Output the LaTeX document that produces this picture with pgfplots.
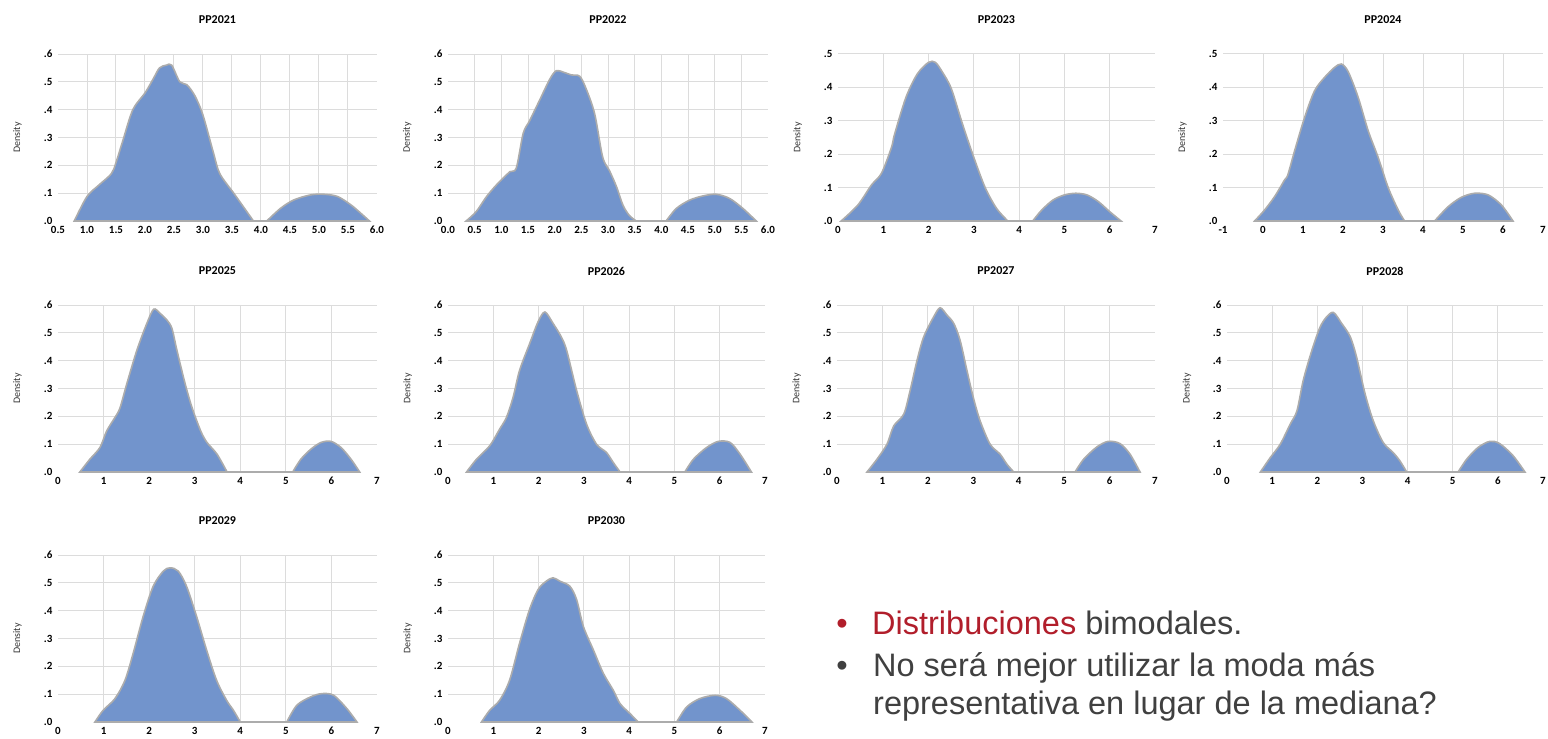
\documentclass[border=0pt]{standalone}
\usepackage{pgfplots}
\pgfplotsset{compat=1.18}
\usepackage{fontspec}
\setmainfont{Liberation Sans}
\newfontfamily\calfont{Carlito}
\definecolor{areablue}{RGB}{114,148,204}
\definecolor{outl}{RGB}{172,172,172}
\definecolor{gridc}{RGB}{220,220,220}
\definecolor{txtgray}{RGB}{64,64,64}
\definecolor{txtred}{RGB}{177,30,43}
\pgfplotsset{
  every axis title shift=0pt,
  panel/.style={
    scale only axis, height=167pt, anchor=south west,
    axis lines=left, axis line style={draw=none},
    ymin=0, clip=false,
    major tick length=0pt,
    tick label style={font=\calfont\bfseries\fontsize{11}{12}\selectfont, text=black},
    xticklabel style={anchor=center, yshift=-9pt},
    yticklabel style={anchor=east, xshift=-2pt},
    extra tick style={grid=major, major tick length=0pt},
    extra x tick labels={}, extra y tick labels={},
    grid style={gridc, line width=1pt},
    title style={font=\calfont\bfseries\fontsize{12}{13}\selectfont, at={(axis description cs:0.5,1)}, anchor=center, yshift=34pt},
    ylabel={Density},
    ylabel style={font=\calfont\fontsize{10}{11}\selectfont, at={(axis description cs:-0.127,0.5)}, anchor=center, text=black!80},
  },
  six/.style={ymax=0.6, ytick={0,0.1,0.2,0.3,0.4,0.5,0.6}, yticklabels={.0,.1,.2,.3,.4,.5,.6}, extra y ticks={0.1,0.2,0.3,0.4,0.5,0.6}},
  five/.style={ymax=0.5, ytick={0,0.1,0.2,0.3,0.4,0.5}, yticklabels={.0,.1,.2,.3,.4,.5}, extra y ticks={0.1,0.2,0.3,0.4,0.5}},
  seven/.style={xmin=0, xmax=7, xtick={0,1,2,3,4,5,6,7}, xticklabels={0,1,2,3,4,5,6,7}, extra x ticks={1,2,3,4,5,6}},
  dens/.style={fill=areablue, draw=outl, line width=1.6pt, smooth, tension=0.5},
  zero/.style={draw=outl, line width=1.6pt, sharp plot},
}
\begin{document}
\begin{tikzpicture}
\useasboundingbox (0,0) rectangle (1548pt,739pt);
% ---------- row 1
\begin{axis}[panel, six, at={(58pt,518pt)}, width=319pt, title={PP2021},
  xmin=0.5, xmax=6, xtick={0.5,1,1.5,2,2.5,3,3.5,4,4.5,5,5.5,6},
  xticklabels={0.5,1.0,1.5,2.0,2.5,3.0,3.5,4.0,4.5,5.0,5.5,6.0},
  extra x ticks={1,1.5,2,2.5,3,3.5,4,4.5,5,5.5}]
\addplot[dens] coordinates {(0.78,0) (1.0,0.088) (1.21,0.13) (1.42,0.17) (1.5,0.21) (1.62,0.29) (1.79,0.40) (2.0,0.46) (2.14,0.51) (2.25,0.55) (2.37,0.56) (2.46,0.56) (2.6,0.50) (2.72,0.49) (2.86,0.45) (3.0,0.38) (3.18,0.245) (3.29,0.17) (3.53,0.10) (3.7,0.05) (3.87,0)} \closedcycle;
\addplot[zero] coordinates {(3.87,0) (4.1,0)};
\addplot[dens] coordinates {(4.1,0) (4.34,0.046) (4.57,0.076) (4.86,0.094) (5.09,0.096) (5.32,0.088) (5.55,0.058) (5.72,0.028) (5.87,0)} \closedcycle;
\end{axis}
\begin{axis}[panel, six, at={(448pt,518pt)}, width=320pt, title={PP2022},
  xmin=0, xmax=6, xtick={0,0.5,1,1.5,2,2.5,3,3.5,4,4.5,5,5.5,6},
  xticklabels={0.0,0.5,1.0,1.5,2.0,2.5,3.0,3.5,4.0,4.5,5.0,5.5,6.0},
  extra x ticks={0.5,1,1.5,2,2.5,3,3.5,4,4.5,5,5.5}]
\addplot[dens] coordinates {(0.34,0) (0.53,0.034) (0.72,0.087) (0.91,0.13) (1.16,0.177) (1.28,0.19) (1.41,0.315) (1.53,0.36) (1.72,0.435) (1.91,0.51) (2.03,0.54) (2.16,0.535) (2.31,0.525) (2.47,0.52) (2.59,0.475) (2.75,0.385) (2.9,0.23) (3.03,0.18) (3.16,0.123) (3.28,0.057) (3.4,0.02) (3.53,0)} \closedcycle;
\addplot[zero] coordinates {(3.53,0) (4.09,0)};
\addplot[dens] coordinates {(4.09,0) (4.28,0.045) (4.53,0.075) (4.78,0.09) (5.03,0.096) (5.28,0.081) (5.53,0.045) (5.78,0)} \closedcycle;
\end{axis}
\begin{axis}[panel, five, seven, at={(838pt,518pt)}, width=317pt, title={PP2023}]
\addplot[dens] coordinates {(0.07,0) (0.44,0.048) (0.74,0.108) (0.96,0.143) (1.18,0.22) (1.25,0.26) (1.5,0.37) (1.75,0.44) (2.0,0.475) (2.15,0.475) (2.3,0.447) (2.5,0.397) (2.75,0.29) (3.0,0.19) (3.25,0.10) (3.5,0.038) (3.75,0)} \closedcycle;
\addplot[zero] coordinates {(3.75,0) (4.3,0)};
\addplot[dens] coordinates {(4.3,0) (4.5,0.033) (4.75,0.063) (5.0,0.078) (5.25,0.083) (5.5,0.078) (5.75,0.058) (6.0,0.028) (6.25,0)} \closedcycle;
\end{axis}
\begin{axis}[panel, five, at={(1223pt,518pt)}, width=320pt, title={PP2024},
  xmin=-1, xmax=7, xtick={-1,0,1,2,3,4,5,6,7}, xticklabels={-1,0,1,2,3,4,5,6,7},
  extra x ticks={0,1,2,3,4,5,6}]
\addplot[dens] coordinates {(-0.21,0) (0.04,0.033) (0.29,0.073) (0.54,0.123) (0.62,0.138) (0.79,0.21) (1.04,0.31) (1.29,0.39) (1.54,0.43) (1.79,0.46) (1.96,0.47) (2.13,0.447) (2.38,0.37) (2.63,0.27) (2.88,0.19) (3.13,0.10) (3.38,0.033) (3.54,0)} \closedcycle;
\addplot[zero] coordinates {(3.54,0) (4.29,0)};
\addplot[dens] coordinates {(4.29,0) (4.63,0.043) (4.96,0.071) (5.29,0.083) (5.63,0.078) (5.96,0.048) (6.25,0)} \closedcycle;
\end{axis}
% ---------- row 2
\begin{axis}[panel, six, seven, at={(58pt,267pt)}, width=319pt, title={PP2025}]
\addplot[dens] coordinates {(0.48,0) (0.70,0.046) (0.92,0.088) (1.07,0.148) (1.25,0.196) (1.36,0.23) (1.51,0.317) (1.73,0.437) (1.95,0.534) (2.10,0.585) (2.24,0.57) (2.39,0.546) (2.5,0.516) (2.61,0.437) (2.79,0.317) (2.94,0.232) (3.13,0.148) (3.27,0.106) (3.49,0.064) (3.71,0)} \closedcycle;
\addplot[zero] coordinates {(3.71,0) (5.15,0)};
\addplot[dens] coordinates {(5.15,0) (5.33,0.046) (5.55,0.082) (5.77,0.106) (5.99,0.11) (6.21,0.088) (6.43,0.046) (6.62,0)} \closedcycle;
\end{axis}
\begin{axis}[panel, six, seven, at={(448pt,267pt)}, width=317pt, title={PP2026}]
\addplot[dens] coordinates {(0.41,0) (0.63,0.046) (0.92,0.094) (1.14,0.154) (1.29,0.196) (1.44,0.27) (1.58,0.365) (1.8,0.46) (1.99,0.54) (2.14,0.575) (2.32,0.534) (2.5,0.486) (2.62,0.437) (2.84,0.293) (3.06,0.172) (3.28,0.1) (3.5,0.07) (3.65,0.034) (3.8,0)} \closedcycle;
\addplot[zero] coordinates {(3.8,0) (5.23,0)};
\addplot[dens] coordinates {(5.23,0) (5.42,0.046) (5.71,0.088) (5.97,0.11) (6.23,0.106) (6.45,0.064) (6.7,0)} \closedcycle;
\end{axis}
\begin{axis}[panel, six, seven, at={(837pt,267pt)}, width=318pt, title={PP2027}]
\addplot[dens] coordinates {(0.66,0) (0.88,0.046) (1.10,0.1) (1.25,0.166) (1.47,0.208) (1.61,0.293) (1.76,0.4) (1.91,0.486) (2.13,0.558) (2.27,0.59) (2.42,0.564) (2.57,0.534) (2.71,0.473) (2.86,0.365) (3.0,0.268) (3.15,0.184) (3.37,0.1) (3.59,0.064) (3.74,0.028) (3.89,0)} \closedcycle;
\addplot[zero] coordinates {(3.89,0) (5.24,0)};
\addplot[dens] coordinates {(5.24,0) (5.43,0.046) (5.72,0.09) (5.97,0.11) (6.23,0.102) (6.45,0.064) (6.67,0)} \closedcycle;
\end{axis}
\begin{axis}[panel, six, seven, at={(1227pt,267pt)}, width=316pt, title={PP2028}]
\addplot[dens] coordinates {(0.74,0) (0.96,0.052) (1.18,0.1) (1.4,0.172) (1.55,0.22) (1.69,0.33) (1.88,0.437) (2.06,0.52) (2.21,0.558) (2.36,0.573) (2.54,0.534) (2.73,0.486) (2.87,0.413) (3.06,0.28) (3.24,0.184) (3.46,0.106) (3.68,0.07) (3.83,0.04) (3.98,0)} \closedcycle;
\addplot[zero] coordinates {(3.98,0) (5.12,0)};
\addplot[dens] coordinates {(5.12,0) (5.31,0.046) (5.56,0.088) (5.82,0.11) (6.04,0.102) (6.34,0.058) (6.6,0)} \closedcycle;
\end{axis}
% ---------- row 3
\begin{axis}[panel, six, seven, at={(58pt,17pt)}, width=319pt, title={PP2029}]
\addplot[dens] coordinates {(0.81,0) (0.99,0.042) (1.25,0.084) (1.47,0.15) (1.65,0.247) (1.87,0.38) (2.09,0.488) (2.31,0.542) (2.46,0.554) (2.64,0.542) (2.82,0.488) (3.04,0.38) (3.26,0.259) (3.48,0.15) (3.7,0.078) (3.85,0.042) (4.0,0)} \closedcycle;
\addplot[zero] coordinates {(4.0,0) (5.02,0)};
\addplot[dens] coordinates {(5.02,0) (5.24,0.06) (5.54,0.09) (5.79,0.102) (6.05,0.096) (6.34,0.048) (6.56,0)} \closedcycle;
\end{axis}
\begin{axis}[panel, six, seven, at={(448pt,17pt)}, width=317pt, title={PP2030}]
\addplot[dens] coordinates {(0.74,0) (0.92,0.042) (1.14,0.078) (1.36,0.15) (1.58,0.283) (1.8,0.404) (1.99,0.476) (2.17,0.506) (2.32,0.518) (2.47,0.506) (2.69,0.488) (2.84,0.44) (2.99,0.343) (3.21,0.259) (3.43,0.175) (3.65,0.114) (3.8,0.066) (4.02,0.03) (4.2,0)} \closedcycle;
\addplot[zero] coordinates {(4.2,0) (5.05,0)};
\addplot[dens] coordinates {(5.05,0) (5.27,0.054) (5.56,0.084) (5.9,0.096) (6.15,0.084) (6.45,0.042) (6.71,0)} \closedcycle;
\end{axis}
% ---------- bullet text
\begin{scope}[every node/.style={inner sep=0pt, font=\fontsize{32.5}{38}\selectfont}]
\node[anchor=base, text=txtred] at (842pt,104pt) {\textbullet};
\node[anchor=base west] at (872pt,104pt) {\textcolor{txtred}{Distribuciones} \textcolor{txtgray}{bimodales.}};
\node[anchor=base, text=txtgray] at (842pt,62pt) {\textbullet};
\node[anchor=base west, text=txtgray] at (873pt,62pt) {No será mejor utilizar la moda más};
\node[anchor=base west, text=txtgray] at (873pt,24pt) {representativa en lugar de la mediana?};
\end{scope}
\end{tikzpicture}
\end{document}
